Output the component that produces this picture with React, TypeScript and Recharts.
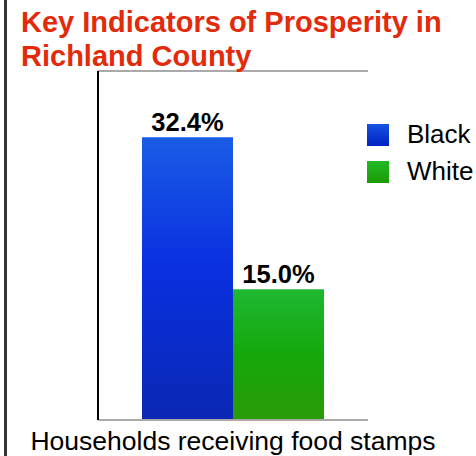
import { BarChart, Bar, XAxis, YAxis, ReferenceLine, Legend, LabelList } from 'recharts'

const categories = ['Households receiving food stamps']
const blackValues = [32.4]
const whiteValues = [15.0]
const yDomain: [number, number] = [0, 40]

const data = categories.map((c, i) => ({
  name: c,
  Black: blackValues[i],
  White: whiteValues[i],
}))

const FONT = '"Liberation Sans", Arial, Helvetica, sans-serif'

function LegendBox() {
  const items = [
    { name: 'Black', grad: 'legBlue' },
    { name: 'White', grad: 'legGreen' },
  ]
  return (
    <div style={{ fontFamily: FONT, fontSize: 26, color: '#000' }}>
      <svg width={0} height={0} style={{ position: 'absolute' }}>
        <defs>
          <linearGradient id="legBlue" x1="0" y1="0" x2="0" y2="1">
            <stop offset="0%" stopColor="#1552e2" />
            <stop offset="100%" stopColor="#0022c4" />
          </linearGradient>
          <linearGradient id="legGreen" x1="0" y1="0" x2="0" y2="1">
            <stop offset="0%" stopColor="#20ba28" />
            <stop offset="100%" stopColor="#1c9a04" />
          </linearGradient>
        </defs>
      </svg>
      {items.map((it) => (
        <div key={it.name} style={{ display: 'flex', alignItems: 'center', height: 37 }}>
          <svg width={22} height={22} style={{ marginRight: 18 }}>
            <rect width={22} height={22} fill={`url(#${it.grad})`} />
          </svg>
          <span>{it.name}</span>
        </div>
      ))}
    </div>
  )
}

export default function App() {
  return (
    <div style={{ position: 'absolute', left: 0, top: 0, width: 476, height: 456, background: '#fff', overflow: 'hidden' }}>
      <BarChart
        width={476}
        height={456}
        data={data}
        margin={{ top: 71, right: 108, bottom: 0, left: 96 }}
        barSize={91}
        barGap={0}
      >
        <defs>
          <linearGradient id="barBlue" x1="0" y1="0" x2="0" y2="1">
            <stop offset="0%" stopColor="#1a5ce6" />
            <stop offset="45%" stopColor="#0a30e0" />
            <stop offset="100%" stopColor="#0a28b4" />
          </linearGradient>
          <linearGradient id="barGreen" x1="0" y1="0" x2="0" y2="1">
            <stop offset="0%" stopColor="#1eb832" />
            <stop offset="50%" stopColor="#15a80c" />
            <stop offset="100%" stopColor="#2a9a08" />
          </linearGradient>
        </defs>
        <XAxis
          dataKey="name"
          tick={false}
          tickLine={false}
          height={36}
          axisLine={{ stroke: '#aaa', strokeWidth: 2 }}
          label={{
            value: 'Households receiving food stamps',
            position: 'insideBottom',
            offset: 6,
            fill: '#000',
            fontSize: 26.5,
            fontFamily: FONT,
          }}
        />
        <YAxis
          domain={yDomain}
          width={2}
          tick={false}
          tickLine={false}
          axisLine={{ stroke: '#000', strokeWidth: 2 }}
        />
        <ReferenceLine y={40} stroke="#aaa" strokeWidth={2} />
        <Legend
          layout="vertical"
          align="center"
          verticalAlign="middle"
          wrapperStyle={{ left: 367, top: 116, width: 110 }}
          content={() => <LegendBox />}
        />
        <Bar dataKey="Black" fill="url(#barBlue)" isAnimationActive={false}>
          <LabelList
            dataKey="Black"
            position="top"
            offset={6}
            formatter={(v: number) => `${v.toFixed(1)}%`}
            fill="#000"
            fontSize={25.5}
            fontWeight="bold"
            fontFamily={FONT}
          />
        </Bar>
        <Bar dataKey="White" fill="url(#barGreen)" isAnimationActive={false}>
          <LabelList
            dataKey="White"
            position="top"
            offset={6}
            formatter={(v: number) => `${v.toFixed(1)}%`}
            fill="#000"
            fontSize={25.5}
            fontWeight="bold"
            fontFamily={FONT}
          />
        </Bar>
      </BarChart>
      <div
        style={{
          position: 'absolute',
          left: 21,
          top: 5,
          fontFamily: FONT,
          fontWeight: 'bold',
          fontSize: 29,
          lineHeight: '34px',
          color: '#e32a0a',
          whiteSpace: 'nowrap',
        }}
      >
        Key Indicators of Prosperity in
        <br />
        Richland County
      </div>
      <div style={{ position: 'absolute', left: 4, top: 0, width: 3, height: 456, background: '#333' }} />
    </div>
  )
}
